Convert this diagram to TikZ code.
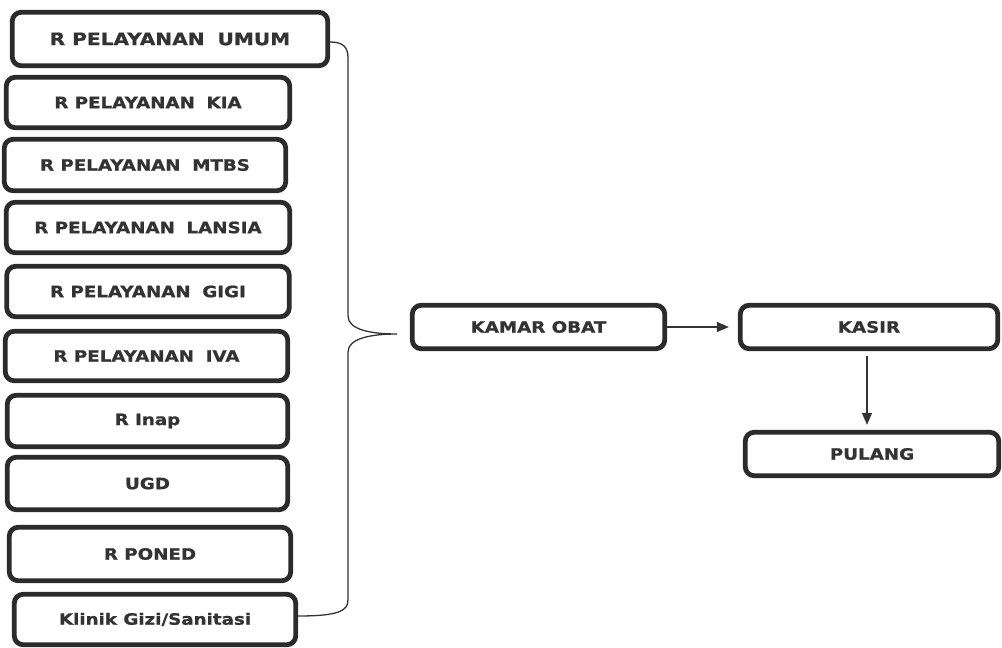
\documentclass[tikz,border=0pt]{standalone}
\usepackage{fontspec}
\newfontfamily\boxfont[FakeStretch=1.17,FakeBold=1]{DejaVu Sans Bold}
\usetikzlibrary{arrows.meta}
\definecolor{boxline}{HTML}{2B2B2B}
\definecolor{txt}{HTML}{333333}
\definecolor{conn}{HTML}{333333}
\tikzset{
  box/.style={draw=boxline, line width=4.8pt, rounded corners=9pt, fill=white,
    text=txt, inner sep=0pt, font=\boxfont\fontsize{15.6}{18}\selectfont},
  bigbox/.style={box, font=\boxfont\fontsize{17.2}{20}\selectfont},
  conline/.style={draw=conn, line width=1.3pt},
  flow/.style={conline, -{Triangle[length=12pt,width=10pt]}},
}
\newcommand{\gapw}{\hspace{0.75em}}
\begin{document}
\begin{tikzpicture}[x=1pt,y=-1pt]
\useasboundingbox[fill=white] (0,0) rectangle (1002,648);
% left column
\node[bigbox, minimum width=315.5pt, minimum height=53.5pt] (umum) at (170,39) {R PELAYANAN\gapw UMUM};
\node[box, minimum width=283.5pt, minimum height=50.5pt] (kia) at (148,102.5) {R PELAYANAN\gapw KIA};
\node[box, minimum width=281.5pt, minimum height=51.5pt] (mtbs) at (145,165) {R PELAYANAN\gapw MTBS};
\node[box, minimum width=283.5pt, minimum height=50.5pt] (lansia) at (148,227.5) {R PELAYANAN\gapw LANSIA};
\node[box, minimum width=282.5pt, minimum height=50.5pt] (gigi) at (148,291.5) {R PELAYANAN\gapw GIGI};
\node[box, minimum width=282.5pt, minimum height=49.5pt] (iva) at (146.5,356) {R PELAYANAN\gapw IVA};
\node[box, minimum width=280.5pt, minimum height=51.5pt] (inap) at (147.5,421) {R Inap};
\node[box, minimum width=280.5pt, minimum height=52.5pt] (ugd) at (147.5,483.5) {UGD};
\node[box, minimum width=281.5pt, minimum height=53.5pt] (poned) at (150,554) {R PONED};
\node[box, minimum width=281.5pt, minimum height=50.5pt] (gizi) at (155,619.5) {Klinik Gizi/Sanitasi};
% right part
\node[box, minimum width=252.5pt, minimum height=43.5pt] (obat) at (538.5,327) {KAMAR OBAT};
\node[box, minimum width=257.5pt, minimum height=43.5pt] (kasir) at (869,327) {KASIR};
\node[box, minimum width=253.5pt, minimum height=43.5pt] (pulang) at (872,454) {PULANG};
% brace
\coordinate (tip) at (397,334);
\draw[conline] (umum.east |- 0,42) .. controls (343,42) and (348,47) .. (348,58)
  -- (348,316) .. controls (348,330) and (372,334) .. (tip)
  .. controls (372,334) and (348,338) .. (348,352)
  -- (348,600) .. controls (348,611) and (338,616) .. (gizi.east |- 0,616);
% arrows
\draw[flow, shorten >=9pt] (obat.east) -- (kasir.west);
\draw[flow, shorten <=5pt, shorten >=5pt] (kasir.south -| 867,0) -- (pulang.north -| 867,0);
\end{tikzpicture}
\end{document}
